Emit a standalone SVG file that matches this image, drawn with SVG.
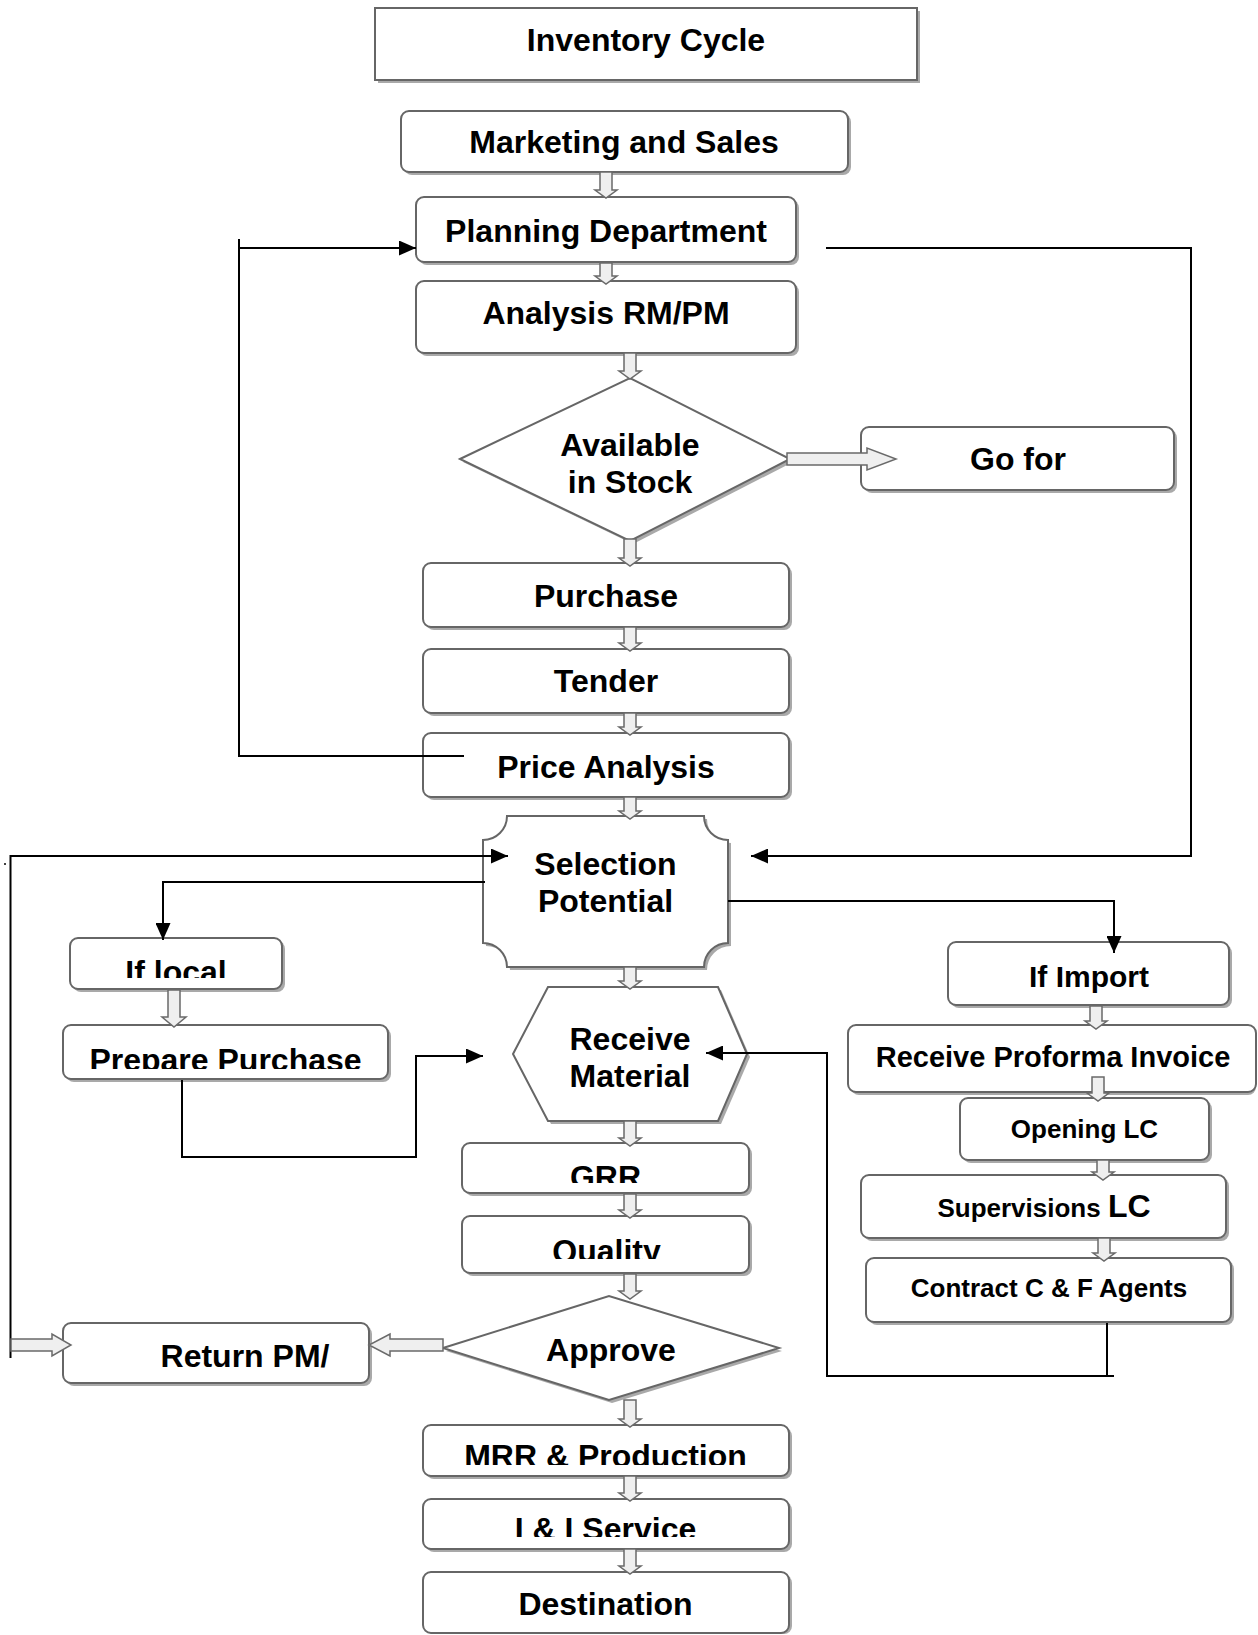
<svg xmlns="http://www.w3.org/2000/svg" width="1258" height="1635" viewBox="0 0 1258 1635">
<style>
.sh{fill:#a9a9a9;stroke:none}
.bx{fill:#fff;stroke:#666;stroke-width:2}
.t{font-family:"Liberation Sans",Arial,sans-serif;font-weight:bold;font-size:32px;fill:#000;text-anchor:middle}
.s26{font-size:26px}
.s29{font-size:29px}
.s30{font-size:30px}
.ln{fill:none;stroke:#000;stroke-width:2}
.ha{fill:#efefef;stroke:#6a6a6a;stroke-width:1.5}
</style>
<defs>
<marker id="ah" viewBox="0 0 17 15" refX="17" refY="7.5" markerWidth="17" markerHeight="15" markerUnits="userSpaceOnUse" orient="auto">
<path d="M0,0 L17,7.5 L0,15 Z" fill="#000"/>
</marker>
<clipPath id="cLocal"><rect x="60" y="930" width="240" height="48"/></clipPath>
<clipPath id="cPrep"><rect x="60" y="1030" width="340" height="39"/></clipPath>
<clipPath id="cGRR"><rect x="460" y="1145" width="290" height="38"/></clipPath>
<clipPath id="cQual"><rect x="460" y="1220" width="290" height="39"/></clipPath>
<clipPath id="cMRR"><rect x="420" y="1428" width="370" height="37"/></clipPath>
<clipPath id="cII"><rect x="420" y="1502" width="370" height="35"/></clipPath>
</defs>

<g id="n-inventory">
<rect class="sh" x="378" y="11" width="542" height="72"/>
<rect class="bx" x="375" y="8" width="542" height="72"/>
<text class="t" x="646" y="51">Inventory Cycle</text>
</g>
<g id="n-marketing">
<rect class="sh" x="404" y="114" width="447" height="61" rx="8"/>
<rect class="bx" x="401" y="111" width="447" height="61" rx="8"/>
<text class="t" x="624" y="153">Marketing and Sales</text>
</g>
<g id="n-planning">
<rect class="sh" x="419" y="200" width="380" height="65" rx="8"/>
<rect class="bx" x="416" y="197" width="380" height="65" rx="8"/>
<text class="t" x="606" y="242">Planning Department</text>
</g>
<g id="n-analysis">
<rect class="sh" x="419" y="284" width="380" height="72" rx="8"/>
<rect class="bx" x="416" y="281" width="380" height="72" rx="8"/>
<text class="t" x="606" y="324">Analysis RM/PM</text>
</g>
<g id="n-available">
<polygon class="sh" points="463,462 633,381 793,462 633,544"/>
<polygon class="bx" points="460,459 630,378 790,459 630,541"/>
<text class="t" x="630" y="456">Available</text>
<text class="t" x="630" y="493">in Stock</text>
</g>
<g id="n-gofor">
<rect class="sh" x="864" y="430" width="313" height="63" rx="8"/>
<rect class="bx" x="861" y="427" width="313" height="63" rx="8"/>
<text class="t" x="1018" y="470">Go for</text>
</g>
<g id="n-purchase">
<rect class="sh" x="426" y="566" width="366" height="64" rx="8"/>
<rect class="bx" x="423" y="563" width="366" height="64" rx="8"/>
<text class="t" x="606" y="607">Purchase</text>
</g>
<g id="n-tender">
<rect class="sh" x="426" y="652" width="366" height="64" rx="8"/>
<rect class="bx" x="423" y="649" width="366" height="64" rx="8"/>
<text class="t" x="606" y="692">Tender</text>
</g>
<g id="n-price">
<rect class="sh" x="426" y="736" width="366" height="64" rx="8"/>
<rect class="bx" x="423" y="733" width="366" height="64" rx="8"/>
<text class="t" x="606" y="778">Price Analysis</text>
</g>
<g id="n-selection">
<path class="sh" transform="translate(3,3)" d="M507,816 H704 A24,24 0 0 0 728,840 V943 A24,24 0 0 0 704,967 H507 A24,24 0 0 0 483,943 V840 A24,24 0 0 0 507,816 Z"/>
<path class="bx" d="M507,816 H704 A24,24 0 0 0 728,840 V943 A24,24 0 0 0 704,967 H507 A24,24 0 0 0 483,943 V840 A24,24 0 0 0 507,816 Z"/>
<text class="t" x="605.5" y="875">Selection</text>
<text class="t" x="605.5" y="912">Potential</text>
</g>
<g id="n-iflocal">
<rect class="sh" x="73" y="941" width="212" height="51" rx="8"/>
<rect class="bx" x="70" y="938" width="212" height="51" rx="8"/>
<text class="t" x="176" y="983" clip-path="url(#cLocal)">If local</text>
</g>
<g id="n-prepare">
<rect class="sh" x="66" y="1028" width="325" height="54" rx="8"/>
<rect class="bx" x="63" y="1025" width="325" height="54" rx="8"/>
<text class="t" x="225.5" y="1071" clip-path="url(#cPrep)">Prepare Purchase</text>
</g>
<g id="n-receive">
<polygon class="sh" points="516,1057 551,990 721,990 750,1057 721,1124 551,1124"/>
<polygon class="bx" points="513,1054 548,987 718,987 747,1054 718,1121 548,1121"/>
<text class="t" x="630" y="1050">Receive</text>
<text class="t" x="630" y="1087">Material</text>
</g>
<g id="n-ifimport">
<rect class="sh" x="951" y="945" width="281" height="63" rx="8"/>
<rect class="bx" x="948" y="942" width="281" height="63" rx="8"/>
<text class="t s30" x="1089" y="987">If Import</text>
</g>
<g id="n-proforma">
<rect class="sh" x="851" y="1028" width="405" height="67" rx="8"/>
<rect class="bx" x="848" y="1025" width="408" height="67" rx="8"/>
<text class="t s29" x="1053" y="1067">Receive Proforma Invoice</text>
</g>
<g id="n-opening">
<rect class="sh" x="963" y="1101" width="249" height="62" rx="8"/>
<rect class="bx" x="960" y="1098" width="249" height="62" rx="8"/>
<text class="t s26" x="1084.5" y="1138">Opening LC</text>
</g>
<g id="n-supervisions">
<rect class="sh" x="864" y="1178" width="365" height="63" rx="8"/>
<rect class="bx" x="861" y="1175" width="365" height="63" rx="8"/>
<text class="t s26" x="1044" y="1217">Supervisions <tspan style="font-size:32px">LC</tspan></text>
</g>
<g id="n-contract">
<rect class="sh" x="869" y="1261" width="365" height="64" rx="8"/>
<rect class="bx" x="866" y="1258" width="365" height="64" rx="8"/>
<text class="t s26" x="1049" y="1297">Contract C &amp; F Agents</text>
</g>
<g id="n-grr">
<rect class="sh" x="465" y="1146" width="287" height="50" rx="8"/>
<rect class="bx" x="462" y="1143" width="287" height="50" rx="8"/>
<text class="t" x="605.5" y="1188" clip-path="url(#cGRR)">GRR</text>
</g>
<g id="n-quality">
<rect class="sh" x="465" y="1219" width="287" height="57" rx="8"/>
<rect class="bx" x="462" y="1216" width="287" height="57" rx="8"/>
<text class="t" x="606.5" y="1262" clip-path="url(#cQual)">Quality</text>
</g>
<g id="n-approve">
<polygon class="sh" points="446,1351 612,1299 782,1351 612,1403"/>
<polygon class="bx" points="443,1348 609,1296 779,1348 609,1400"/>
<text class="t" x="611" y="1361">Approve</text>
</g>
<g id="n-return">
<rect class="sh" x="66" y="1326" width="306" height="60" rx="8"/>
<rect class="bx" x="63" y="1323" width="306" height="60" rx="8"/>
<text class="t" x="245" y="1367">Return PM/</text>
</g>
<g id="n-mrr">
<rect class="sh" x="426" y="1428" width="366" height="51" rx="8"/>
<rect class="bx" x="423" y="1425" width="366" height="51" rx="8"/>
<text class="t" x="605.5" y="1467" clip-path="url(#cMRR)">MRR &amp; Production</text>
</g>
<g id="n-service">
<rect class="sh" x="426" y="1502" width="366" height="50" rx="8"/>
<rect class="bx" x="423" y="1499" width="366" height="50" rx="8"/>
<text class="t" x="605.5" y="1540" clip-path="url(#cII)">I &amp; I Service</text>
</g>
<g id="n-destination">
<rect class="sh" x="426" y="1575" width="366" height="59" rx="8"/>
<rect class="bx" x="423" y="1572" width="366" height="61" rx="8"/>
<text class="t" x="605.5" y="1615">Destination</text>
</g>

<g id="connectors">
<path class="ln" d="M464,756 H239 V239"/>
<path class="ln" d="M239,248 H416" marker-end="url(#ah)"/>
<path class="ln" d="M826,248 H1191 V856 H751" marker-end="url(#ah)"/>
<path class="ln" d="M10.5,1358 V856 H508" marker-end="url(#ah)"/>
<path class="ln" d="M485,882 H163 V940" marker-end="url(#ah)"/>
<path class="ln" d="M728,901 H1114 V953" marker-end="url(#ah)"/>
<path class="ln" d="M182,1080 V1157 H416 V1056 H483" marker-end="url(#ah)"/>
<path class="ln" d="M1107,1323 V1376"/>
<path class="ln" d="M1114,1376 H827 V1053 H706" marker-end="url(#ah)"/>
<circle cx="5" cy="864" r="1" fill="#000"/>
</g>

<g id="flow-arrows">
<path class="ha" d="M600,172 H612 V190 H617 L606,198 L595,190 H600 Z"/>
<path class="ha" d="M600,263 H612 V276 H617 L606,284 L595,276 H600 Z"/>
<path class="ha" d="M624,353 H636 V371 H641 L630,379 L619,371 H624 Z"/>
<path class="ha" d="M624,539 H636 V558 H641 L630,566 L619,558 H624 Z"/>
<path class="ha" d="M624,627 H636 V643 H641 L630,651 L619,643 H624 Z"/>
<path class="ha" d="M624,713 H636 V727 H641 L630,735 L619,727 H624 Z"/>
<path class="ha" d="M624,797 H636 V811 H641 L630,819 L619,811 H624 Z"/>
<path class="ha" d="M624,967 H636 V981 H641 L630,989 L619,981 H624 Z"/>
<path class="ha" d="M168,990 H180 V1017 H186 L174,1027 L162,1017 H168 Z"/>
<path class="ha" d="M624,1121 H636 V1138 H641 L630,1146 L619,1138 H624 Z"/>
<path class="ha" d="M624,1194 H636 V1210 H641 L630,1218 L619,1210 H624 Z"/>
<path class="ha" d="M624,1274 H636 V1291 H641 L630,1299 L619,1291 H624 Z"/>
<path class="ha" d="M624,1400 H636 V1419 H641 L630,1427 L619,1419 H624 Z"/>
<path class="ha" d="M624,1476 H636 V1493 H641 L630,1501 L619,1493 H624 Z"/>
<path class="ha" d="M624,1549 H636 V1566 H641 L630,1574 L619,1566 H624 Z"/>
<path class="ha" d="M1090,1006 H1102 V1021 H1107 L1096,1029 L1085,1021 H1090 Z"/>
<path class="ha" d="M1092,1077 H1104 V1093 H1109 L1098,1101 L1087,1093 H1092 Z"/>
<path class="ha" d="M1097,1160 H1109 V1172 H1114 L1103,1180 L1092,1172 H1097 Z"/>
<path class="ha" d="M1098,1238 H1110 V1253 H1115 L1104,1261 L1093,1253 H1098 Z"/>
<path class="ha" d="M787,453 H867 V448 L896,459 L867,470 V465 H787 Z"/>
<path class="ha" d="M11,1339 H52 V1334 L71,1345 L52,1356 V1351 H11 Z"/>
<path class="ha" d="M443,1339 H390 V1334 L369,1345 L390,1356 V1351 H443 Z"/>
</g>
</svg>
